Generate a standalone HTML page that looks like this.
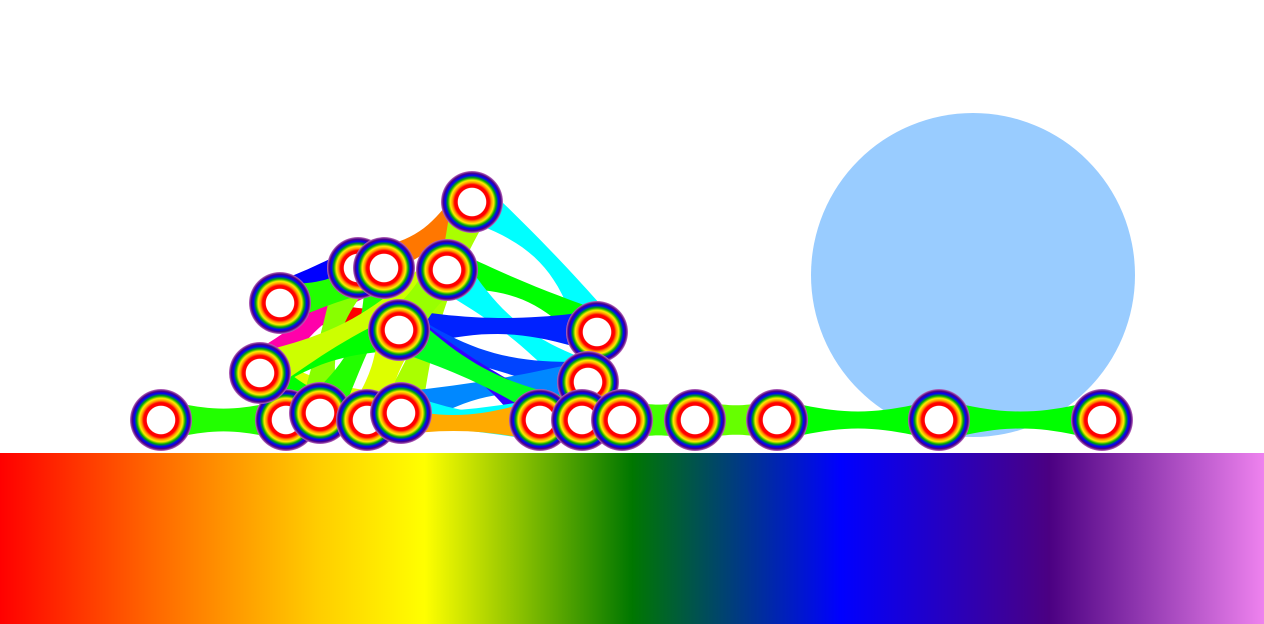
<!DOCTYPE html>
<html><head><meta charset="utf-8"><style>
html,body{margin:0;padding:0;background:#fff;overflow:hidden}
svg{display:block}
</style></head><body>
<svg id="scene" width="1264" height="624" viewBox="0 0 1264 624" xmlns="http://www.w3.org/2000/svg">
<defs>
<radialGradient id="ring" cx="50%" cy="50%" r="50%">
<stop offset="0" stop-color="#fff"/><stop offset="0.45" stop-color="#fff"/>
<stop offset="0.47" stop-color="#ff0000"/><stop offset="0.56" stop-color="#ff0000"/>
<stop offset="0.63" stop-color="#ff9900"/><stop offset="0.70" stop-color="#ffee00"/>
<stop offset="0.78" stop-color="#00aa00"/><stop offset="0.86" stop-color="#0000ff"/>
<stop offset="0.93" stop-color="#4b0082"/><stop offset="1" stop-color="#c070c0"/>
</radialGradient>
<linearGradient id="floor" x1="0" x2="1" y1="0" y2="0">
<stop offset="0" stop-color="#ff0000"/><stop offset="0.12" stop-color="#ff6600"/>
<stop offset="0.25" stop-color="#ffcc00"/><stop offset="0.336" stop-color="#ffff00"/>
<stop offset="0.5" stop-color="#007700"/><stop offset="0.665" stop-color="#0000ff"/>
<stop offset="0.83" stop-color="#4b0082"/><stop offset="1" stop-color="#ee82ee"/>
</linearGradient>
</defs>
<rect x="0" y="453" width="1264" height="171" fill="url(#floor)"/>
<circle cx="973" cy="275" r="162" fill="#99ccff"/>
<g id="links"></g>
<g id="nodes"></g>
</svg>
<script>
const nodeX=[161,286,320,367,401,260,280,358,384,447,472,399,597,588,540,582,622,695,777,939,1102];
const nodeY=[420,420,413,420,413,373,303,268,268,270,202,330,332,382,420,420,420,420,420,420,420];
const linkA=[0,16,17,18,19,10,10,10,9,9,11,11,4,4,6,6,5,5,2,2,5,11,11,1,3,5,5,6,3,9];
const linkB=[1,17,18,19,20,12,7,4,12,13,12,13,13,15,7,11,8,4,7,8,3,14,15,14,14,11,9,8,11,11];
const linkC=["#22ff00","#44ff00","#66ff00","#00ff00","#00ff00","#00ffff","#ff7700","#aaff00","#00ff00","#00ffff","#0022ff","#0044ff","#0088ff","#00ffff","#0000ff","#ff0000","#ff00aa","#ddff00","#88ff00","#22ff00","#00ff00","#3300ff","#00ff22","#00ffff","#ffaa00","#00ff00","#ccff00","#22ff00","#ddff00","#99ff00"];
const linkBow=[0,0,0,0,0,-15,-10,0,-10,5,-5,5,-10,5,-5,0,-5,0,-10,10,5,-8,5,0,3,0,5,5,0,0];
const NS='http://www.w3.org/2000/svg';
const lg=document.getElementById('links'), ng=document.getElementById('nodes');
for(let i=0;i<linkA.length;i++){
  const x1=nodeX[linkA[i]],y1=nodeY[linkA[i]],x2=nodeX[linkB[i]],y2=nodeY[linkB[i]];
  const dx=x2-x1,dy=y2-y1,L=Math.hypot(dx,dy)||1,nx=-dy/L,ny=dx/L;
  const w0=21,wm=Math.max(8,21-L/13);
  const top=[],bot=[];
  for(let k=0;k<=24;k++){const t=k/24;const w=w0-(w0-wm)*Math.sin(Math.PI*t);const b=linkBow[i]*Math.sin(Math.PI*t);
    const cx=x1+dx*t+nx*b,cy=y1+dy*t+ny*b;
    top.push((cx+nx*w).toFixed(1)+','+(cy+ny*w).toFixed(1));
    bot.unshift((cx-nx*w).toFixed(1)+','+(cy-ny*w).toFixed(1));}
  const p=document.createElementNS(NS,'polygon');
  p.setAttribute('points',top.concat(bot).join(' '));
  p.setAttribute('fill',linkC[i]);
  
  
  lg.appendChild(p);
}
for(let i=0;i<nodeX.length;i++){
  const c=document.createElementNS(NS,'circle');
  c.setAttribute('cx',nodeX[i]);c.setAttribute('cy',nodeY[i]);c.setAttribute('r',31);
  c.setAttribute('fill','url(#ring)');
  
  
  ng.appendChild(c);
}
</script>
</body></html>
